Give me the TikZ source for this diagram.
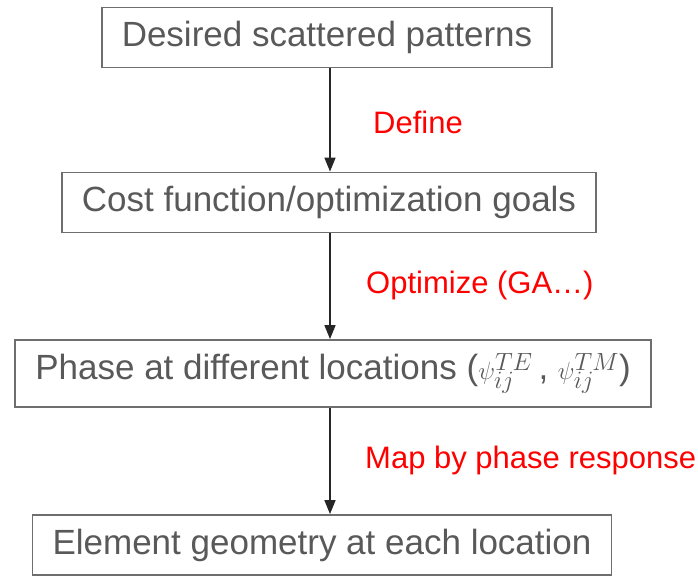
\documentclass[tikz,border=0pt]{standalone}
\usepackage{fontspec}
\setmainfont{Liberation Sans}
\usepackage{tikz}
\usetikzlibrary{arrows.meta,positioning}
\definecolor{BoxText}{RGB}{89,89,89}
\definecolor{BoxLine}{RGB}{110,110,110}
\definecolor{FlowArrow}{RGB}{38,38,38}
\definecolor{StepRed}{RGB}{255,0,0}

\begin{document}
\begin{tikzpicture}[
x=1pt,y=-1pt,
stage/.style={
draw=BoxLine,
line width=1.8pt,
text=BoxText,
font=\fontsize{35}{38}\selectfont,
minimum height=60pt,
inner xsep=20pt
},
flow/.style={
draw=FlowArrow,
line width=1.5pt,
-{Triangle[length=14pt,width=11pt]}
},
action/.style={
text=StepRed,
font=\fontsize{31}{34}\selectfont,
anchor=west,
inner sep=0pt
}
]
\useasboundingbox (0,0) rectangle (698,575);

\node[stage] (desired) at (327,37.5) {Desired scattered patterns};
\node[stage] (cost) at (329,202.5) {Cost function/optimization goals};
\node[stage,minimum height=67pt] (phase) at (333,373.5)
  {Phase at different locations ($\psi_{ij}^{TE}$\,, $\psi_{ij}^{TM}$)};
\node[stage] (geometry) at (322,545) {Element geometry at each location};

\coordinate (axis) at (330,0);

\draw[flow] (desired.south -| axis) -- (cost.north -| axis);
\draw[flow] (cost.south -| axis) -- (phase.north -| axis);
\draw[flow] (phase.south -| axis) -- (geometry.north -| axis);

\node[action] (define) at (373,122) {Define};
\node[action] (optimize) at (366,285) {Optimize (GA\ldots)};
\node[action] (mapping) at (365,460) {Map by phase response};
\end{tikzpicture}
\end{document}
